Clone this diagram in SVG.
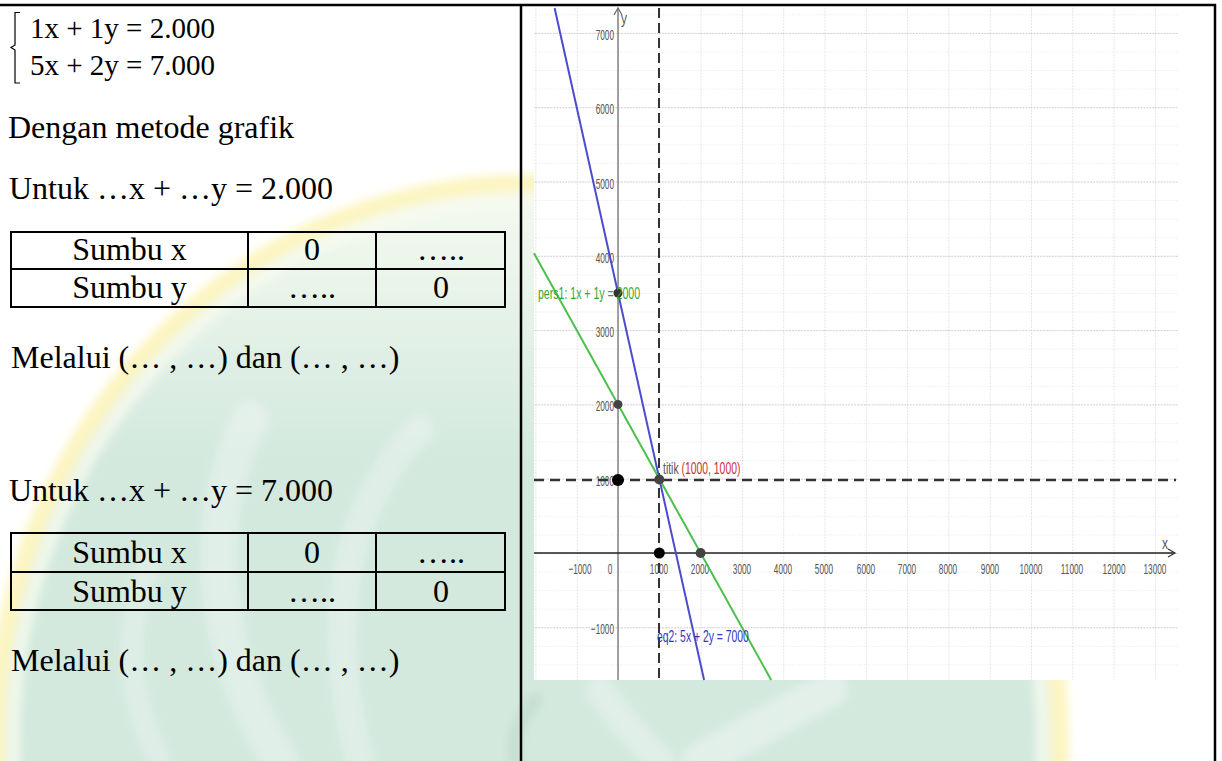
<svg xmlns="http://www.w3.org/2000/svg" width="1222" height="761" viewBox="0 0 1222 761">
<style>
.serif{font-family:"Liberation Serif","Times New Roman",serif;fill:#000}
.eq{font-size:29px}
.body{font-size:32px}
.cell{font-size:32px;text-anchor:middle}
.tk{font-family:"Liberation Sans",Arial,sans-serif;font-size:15px;fill:#555}
.tkx{text-anchor:middle}
.tky{text-anchor:end}
.lbl{font-family:"Liberation Sans",Arial,sans-serif;font-size:16px}
.tbl{fill:none;stroke:#000;stroke-width:2}
.frame{stroke:#000;stroke-width:2.5}
</style>
<defs>
<linearGradient id="wmFill" x1="0" y1="190" x2="0" y2="460" gradientUnits="userSpaceOnUse">
<stop offset="0" stop-color="#f5faf0"/>
<stop offset="1" stop-color="#d3e9de"/>
</linearGradient>
<filter id="soft" x="-5%" y="-5%" width="110%" height="110%">
<feGaussianBlur stdDeviation="4"/>
</filter>
<pattern id="gMinor" x="618" y="553" width="41.3" height="18.575" patternUnits="userSpaceOnUse">
<line x1="0" y1="0.5" x2="41.3" y2="0.5" stroke="#ececec" stroke-width="1" stroke-dasharray="1.5 1.5"/>
<line x1="0.5" y1="0" x2="0.5" y2="18.575" stroke="#dedede" stroke-width="1" stroke-dasharray="1.5 1.5"/>
</pattern>
<pattern id="gMajor" x="618" y="553" width="41.3" height="74.3" patternUnits="userSpaceOnUse">
<line x1="0" y1="0.5" x2="41.3" y2="0.5" stroke="#cacaca" stroke-width="1" stroke-dasharray="1.5 1.5"/>
</pattern>
</defs>

<rect x="0" y="0" width="1222" height="761" fill="#fff"/>

<g id="watermark" filter="url(#soft)">
<ellipse cx="528" cy="740" rx="525" ry="550" fill="url(#wmFill)"/>
<ellipse cx="528" cy="740" rx="532" ry="557" fill="none" stroke="#fcf5c2" stroke-width="18"/>
<ellipse cx="528" cy="740" rx="515" ry="540" fill="none" stroke="#f6faee" stroke-width="14" opacity="0.8"/>
<path d="M250,420 C200,520 210,650 280,761" fill="none" stroke="#fff" stroke-width="36" stroke-linecap="round" opacity="0.3"/>
<path d="M420,430 C330,520 330,650 360,761" fill="none" stroke="#fff" stroke-width="28" stroke-linecap="round" opacity="0.28"/>
<path d="M150,560 C120,640 130,700 160,761" fill="none" stroke="#fff" stroke-width="22" stroke-linecap="round" opacity="0.25"/>
<path d="M830,690 C770,720 740,740 700,761" fill="none" stroke="#fff" stroke-width="36" stroke-linecap="round" opacity="0.35"/>
<path d="M600,690 C620,720 640,740 660,761" fill="none" stroke="#fff" stroke-width="28" stroke-linecap="round" opacity="0.3"/>
<path d="M535,700 C515,725 512,745 516,761" fill="none" stroke="#b3d1c1" stroke-width="16" stroke-linecap="round" opacity="0.35"/>
</g>

<g id="frame">
<line class="frame" x1="0" y1="5" x2="1216" y2="5"/>
<line class="frame" x1="521" y1="4" x2="521" y2="761" stroke-width="2"/>
<line class="frame" x1="1215" y1="4" x2="1215" y2="761" stroke-width="2"/>
</g>

<g id="system">
<path d="M20,12.5 H15 V45 L11,47.5 L15,50 V83 H20" fill="none" stroke="#000" stroke-width="1.2"/>
<text class="serif eq" x="30" y="37.5">1x + 1y = 2.000</text>
<text class="serif eq" x="30" y="75">5x + 2y = 7.000</text>
</g>

<g id="method">
<text class="serif body" x="8" y="138">Dengan metode grafik</text>
</g>

<g id="part1">
<text class="serif body" x="9" y="199">Untuk …x + …y = 2.000</text>
<g id="table1">
<rect class="tbl" x="11" y="232" width="494" height="75"/>
<line class="tbl" x1="11" y1="269" x2="505" y2="269"/>
<line class="tbl" x1="248" y1="232" x2="248" y2="307"/>
<line class="tbl" x1="376" y1="232" x2="376" y2="307"/>
<text class="serif cell" x="129.5" y="260">Sumbu x</text>
<text class="serif cell" x="312" y="260">0</text>
<text class="serif cell" x="441" y="260">…..</text>
<text class="serif cell" x="129.5" y="298">Sumbu y</text>
<text class="serif cell" x="312" y="298">…..</text>
<text class="serif cell" x="441" y="298">0</text>
</g>
<text class="serif body" x="11" y="368">Melalui (… , …) dan (… , …)</text>
</g>

<g id="part2">
<text class="serif body" x="9" y="501">Untuk …x + …y = 7.000</text>
<g id="table2">
<rect class="tbl" x="11" y="533" width="494" height="77"/>
<line class="tbl" x1="11" y1="572" x2="505" y2="572"/>
<line class="tbl" x1="248" y1="533" x2="248" y2="610"/>
<line class="tbl" x1="376" y1="533" x2="376" y2="610"/>
<text class="serif cell" x="129.5" y="563">Sumbu x</text>
<text class="serif cell" x="312" y="563">0</text>
<text class="serif cell" x="441" y="563">…..</text>
<text class="serif cell" x="129.5" y="602">Sumbu y</text>
<text class="serif cell" x="312" y="602">…..</text>
<text class="serif cell" x="441" y="602">0</text>
</g>
<text class="serif body" x="11" y="671">Melalui (… , …) dan (… , …)</text>
</g>

<g id="graph">
<rect x="534" y="7" width="644" height="673" fill="#fff"/>
<rect x="534" y="7" width="644" height="673" fill="url(#gMinor)"/>
<rect x="534" y="7" width="644" height="673" fill="url(#gMajor)"/>

<g id="axes">
<line x1="618" y1="8" x2="618" y2="680" stroke="#666" stroke-width="1.2"/>
<polyline points="614,15 618,8 622,15" fill="none" stroke="#666" stroke-width="1.2"/>
<line x1="534" y1="553" x2="1175" y2="553" stroke="#222" stroke-width="1.5"/>
<polyline points="1168,549 1175,553 1168,557" fill="none" stroke="#333" stroke-width="1.2"/>
<text class="lbl" transform="translate(621 24) scale(0.75 1)" fill="#555">y</text>
<text class="lbl" transform="translate(1162 549) scale(0.75 1)" fill="#555">x</text>
</g>

<g id="xticks" class="tk tkx" transform="scale(0.55 1)">
<text x="1054.5" y="574">−1000</text>
<text x="1109.1" y="574">0</text>
<text x="1198.2" y="574">1000</text>
<text x="1272.7" y="574">2000</text>
<text x="1349.1" y="574">3000</text>
<text x="1423.6" y="574">4000</text>
<text x="1498.2" y="574">5000</text>
<text x="1574.5" y="574">6000</text>
<text x="1649.1" y="574">7000</text>
<text x="1723.6" y="574">8000</text>
<text x="1800" y="574">9000</text>
<text x="1874.5" y="574">10000</text>
<text x="1949.1" y="574">11000</text>
<text x="2025.5" y="574">12000</text>
<text x="2100" y="574">13000</text>
</g>

<g id="yticks" class="tk tky" transform="scale(0.55 1)">
<text x="1116.4" y="40">7000</text>
<text x="1116.4" y="114">6000</text>
<text x="1116.4" y="189">5000</text>
<text x="1116.4" y="263">4000</text>
<text x="1116.4" y="337">3000</text>
<text x="1116.4" y="411">2000</text>
<text x="1116.4" y="486">1000</text>
<text x="1116.4" y="634">−1000</text>
</g>

<g id="guides">
<line x1="659" y1="8" x2="659" y2="680" stroke="#333" stroke-width="2" stroke-dasharray="10 5"/>
<line x1="534" y1="480" x2="1176" y2="480" stroke="#333" stroke-width="2.5" stroke-dasharray="10 6"/>
</g>

<g id="connectors">
<line id="line-eq2" x1="554.6" y1="8" x2="704.1" y2="680" stroke="#4b4bd0" stroke-width="2"/>
<line id="line-pers1" x1="534" y1="253.3" x2="771.2" y2="680" stroke="#4cbf4c" stroke-width="2"/>
</g>

<g id="points">
<circle cx="618" cy="293" r="4.5" fill="#333"/>
<circle cx="618" cy="404.4" r="4.5" fill="#444"/>
<circle cx="618" cy="480" r="6" fill="#000"/>
<circle cx="659.3" cy="479.5" r="5" fill="#444"/>
<circle cx="659.3" cy="553" r="5.5" fill="#000"/>
<circle cx="700.6" cy="553" r="5" fill="#444"/>
</g>

<g id="labels">
<text class="lbl" transform="translate(538 299) scale(0.66 1)" fill="#2fa82f">pers1: 1x + 1y = 2000</text>
<text class="lbl" transform="translate(663 474) scale(0.65 1)"><tspan fill="#555">titik </tspan><tspan fill="#cc3333">(1000, 1000)</tspan></text>
<text class="lbl" transform="translate(657 642) scale(0.65 1)" fill="#3333bb">eq2: 5x + 2y = 7000</text>
</g>
</g>
</svg>
